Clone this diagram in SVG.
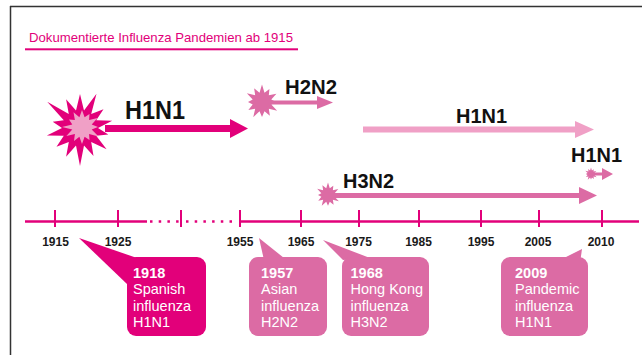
<svg xmlns="http://www.w3.org/2000/svg" xmlns:xlink="http://www.w3.org/1999/xlink" width="642" height="355" viewBox="0 0 642 355">
<style>
.frame{stroke:#333;stroke-width:1.5;fill:none}
.mag{fill:#e2007a}
.med{fill:#dc6ba4}
.lt{fill:#f0a0c6}
.axis{stroke:#e2007a;stroke-width:2.5;fill:none}
.tick{stroke:#e2007a;stroke-width:2;fill:none}
.dots{stroke:#e2007a;stroke-width:2.5;stroke-dasharray:2.5 6.2;fill:none}
.lbl{font-family:"Liberation Sans",Arial,sans-serif;font-weight:bold;fill:#111}
.yr{font-family:"Liberation Sans",Arial,sans-serif;font-weight:bold;font-size:12px;fill:#1a1a1a;text-anchor:middle}
.bt{font-family:"Liberation Sans",Arial,sans-serif;font-size:14.5px;fill:#fff}
.bt .b{font-weight:bold}
.title{font-family:"Liberation Sans",Arial,sans-serif;font-size:13px;fill:#e2007a}
</style>
<defs>
<polygon id="star" points="0,-10 1.42,-5.31 4.25,-7.36 3.89,-3.89 8.23,-4.75 5.31,-1.42 8,0 5.31,1.42 8.66,5 3.89,3.89 4.5,7.79 1.42,5.31 0,8.5 -1.42,5.31 -5,8.66 -3.89,3.89 -7.79,4.5 -5.31,1.42 -8,0 -5.31,-1.42 -8.66,-5 -3.89,-3.89 -4.5,-7.79 -1.42,-5.31"/>
</defs>
<line class="frame" x1="10" y1="6.5" x2="642" y2="6.5"/>
<line class="frame" x1="10.5" y1="6" x2="10.5" y2="355"/>
<g id="title">
<text class="title" x="29" y="42" textLength="264" lengthAdjust="spacingAndGlyphs">Dokumentierte Influenza Pandemien ab 1915</text>
<rect class="mag" x="25" y="48.3" width="273" height="2"/>
</g>
<g id="connectors">
<path id="arrow-h1n1-1918" class="mag" d="M105,125 H230 V119 L248,128.5 L230,138 V132 H105 Z"/>
<path id="arrow-h2n2" class="med" d="M270,100.5 H317 V96 L333,102.5 L317,109 V104.5 H270 Z"/>
<path id="arrow-h1n1-1977" class="lt" d="M363,126.5 H575 V121 L594,129.5 L575,138 V132.5 H363 Z"/>
<path id="arrow-h3n2" class="med" d="M330,193 H579 V187 L597,195.5 L579,204 V198 H330 Z"/>
<path id="arrow-h1n1-2009" class="med" d="M588,172.5 H602 V168 L613,174 L602,180 V175.5 H588 Z"/>
</g>
<g id="h1n1-1918">
<polygon class="mag" points="80,94 84,110.5 96.5,93.8 91.2,113.9 103.5,109.3 96.2,120.2 112.2,120.7 98,128 108.3,134.5 96.2,135.8 106.6,149.2 91.2,142.1 93.5,155.9 84,145.5 80,166 76,145.5 66.1,156.8 68.8,142.1 56.5,146.7 63.8,135.8 46.9,135.6 62,128 52.7,121.8 63.8,120.2 47.2,101.8 68.8,113.9 66.1,99.2 76,110.5"/>
<polygon class="lt" points="82,110 84.6,117.3 89.5,114 89.1,119.9 97.6,118 91.7,124.4 98,127 91.7,129.6 98.5,136.5 89.1,134.1 89.5,140 84.6,136.7 82,144 79.4,136.7 74,140.9 74.9,134.1 66.4,136 72.3,129.6 62,127 72.3,124.4 69,119.5 74.9,119.9 73.5,112.3 79.4,117.3"/>
<text class="lbl" x="125" y="119" font-size="26" textLength="60" lengthAdjust="spacingAndGlyphs">H1N1</text>
</g>
<g id="h2n2-1957">
<use xlink:href="#star" class="med" transform="translate(262,102) scale(1.75)"/>
<text class="lbl" x="285" y="94" font-size="20" textLength="52" lengthAdjust="spacingAndGlyphs">H2N2</text>
</g>
<g id="h1n1-1977">
<text class="lbl" x="456" y="123" font-size="21" textLength="51" lengthAdjust="spacingAndGlyphs">H1N1</text>
</g>
<g id="h3n2-1968">
<use xlink:href="#star" class="med" transform="translate(328,195) scale(1.25)"/>
<text class="lbl" x="343" y="188" font-size="21" textLength="51" lengthAdjust="spacingAndGlyphs">H3N2</text>
</g>
<g id="h1n1-2009">
<use xlink:href="#star" class="med" transform="translate(591,174) scale(0.65)"/>
<text class="lbl" x="571" y="162" font-size="21" textLength="51" lengthAdjust="spacingAndGlyphs">H1N1</text>
</g>
<g id="axis">
<line class="axis" x1="25" y1="221.5" x2="147" y2="221.5"/>
<line class="dots" x1="150" y1="221.5" x2="180" y2="221.5"/>
<line class="dots" x1="186" y1="221.5" x2="233" y2="221.5"/>
<line class="axis" x1="240" y1="221.5" x2="639" y2="221.5"/>
<path class="tick" d="M55,210V227 M118,210V227 M181,210V227 M240,210V227 M301,210V227 M359,210V227 M419,210V227 M481,210V227 M539,210V227 M602,210V227"/>
<text class="yr" x="55.5" y="246">1915</text>
<text class="yr" x="118" y="246">1925</text>
<text class="yr" x="240" y="246">1955</text>
<text class="yr" x="301" y="246">1965</text>
<text class="yr" x="358.5" y="246">1975</text>
<text class="yr" x="418.5" y="246">1985</text>
<text class="yr" x="481" y="246">1995</text>
<text class="yr" x="538" y="246">2005</text>
<text class="yr" x="601" y="246">2010</text>
</g>
<g id="callout-1918">
<polygon class="mag" points="79,238 137,258 127,284"/>
<rect class="mag" x="127" y="257" width="79" height="79" rx="9"/>
<text class="bt" x="133"><tspan class="b" x="133" y="278">1918</tspan><tspan x="133" y="294.3">Spanish</tspan><tspan x="133" y="310.6">influenza</tspan><tspan x="133" y="327">H1N1</tspan></text>
</g>
<g id="callout-1957">
<polygon class="med" points="259,238 264,260 284,258"/>
<rect class="med" x="249" y="257" width="78" height="79" rx="9"/>
<text class="bt" x="261"><tspan class="b" x="261" y="278">1957</tspan><tspan x="261" y="294.3">Asian</tspan><tspan x="261" y="310.6">influenza</tspan><tspan x="261" y="327">H2N2</tspan></text>
</g>
<g id="callout-1968">
<polygon class="med" points="323,240 343,260 370,258"/>
<rect class="med" x="342" y="257" width="87" height="79" rx="9"/>
<text class="bt" x="350.5"><tspan class="b" x="350.5" y="278">1968</tspan><tspan x="350.5" y="294.3">Hong Kong</tspan><tspan x="350.5" y="310.6">influenza</tspan><tspan x="350.5" y="327">H3N2</tspan></text>
</g>
<g id="callout-2009">
<polygon class="med" points="582,249 562,259 580,263"/>
<rect class="med" x="501" y="257" width="87" height="79" rx="9"/>
<text class="bt" x="515"><tspan class="b" x="515" y="278">2009</tspan><tspan x="515" y="294.3">Pandemic</tspan><tspan x="515" y="310.6">influenza</tspan><tspan x="515" y="327">H1N1</tspan></text>
</g>
</svg>
